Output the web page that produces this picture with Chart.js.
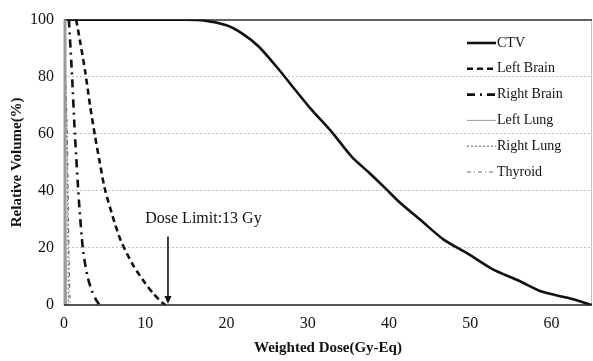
<!DOCTYPE html>
<html>
<head>
<meta charset="utf-8">
<script src="https://cdn.jsdelivr.net/npm/chart.js@4"></script>
<style>
  html, body { margin: 0; padding: 0; background: #fff; }
  #wrap { width: 593px; height: 361px; position: relative; }
</style>
</head>
<body>
<div id="wrap"><canvas id="dvh"></canvas></div>
<script>
// dose-volume histogram, dose in Gy-Eq, volume in %
const ctvDose = [0, 15, 17, 20, 22, 24, 26.6, 28, 30.3, 33, 35.4, 37.5, 39.7, 41.3, 44, 46.7, 50, 52.8, 56, 58.8, 62, 65];
const ctvVol = [100, 100, 99.8, 98, 95, 90.5, 82, 77, 69, 60.5, 52, 46.5, 40.5, 36, 29.5, 23, 17.5, 12.5, 8.5, 4.7, 2.5, 0];

const leftBrainDose = [1.5, 2, 2.6, 3.2, 3.8, 4.4, 5, 6, 7, 8.5, 10, 11, 12, 12.5];
const leftBrainVol = [100, 92, 82, 70, 59.5, 50, 41, 31, 22.5, 14, 7.6, 4, 1, 0];

const rightBrainDose = [0.6, 0.95, 1.35, 1.85, 2.35, 2.9, 3.4, 4, 4.4];
const rightBrainVol = [100, 82.5, 59.5, 36, 19, 10, 5.2, 1.5, 0];

const leftLungDose = [0, 0.15, 0.3];
const leftLungVol = [100, 50, 0];

const rightLungDose = [0, 0.35, 0.55];
const rightLungVol = [100, 60, 0];

const thyroidDose = [0, 0.4, 0.6, 0.75];
const thyroidVol = [100, 60, 20, 0];

const xTicks = [0, 10, 20, 30, 40, 50, 60];
const yTicks = [0, 20, 40, 60, 80, 100];

const doseLimit = 13;
const doseLimitText = 'Dose Limit:13 Gy';

function pts(xs, ys) {
    return xs.map((x, i) => ({ x: x, y: ys[i] }));
}

const serif = '"Liberation Serif", "Times New Roman", serif';

const series = [
    { label: 'CTV', data: pts(ctvDose, ctvVol), borderColor: '#111', borderWidth: 2.6, borderDash: [] },
    { label: 'Left Brain', data: pts(leftBrainDose, leftBrainVol), borderColor: '#111', borderWidth: 2.6, borderDash: [6, 4] },
    { label: 'Right Brain', data: pts(rightBrainDose, rightBrainVol), borderColor: '#111', borderWidth: 2.6, borderDash: [8, 5, 2, 5] },
    { label: 'Left Lung', data: pts(leftLungDose, leftLungVol), borderColor: '#999', borderWidth: 1, borderDash: [] },
    { label: 'Right Lung', data: pts(rightLungDose, rightLungVol), borderColor: '#777', borderWidth: 1.2, borderDash: [2, 2] },
    { label: 'Thyroid', data: pts(thyroidDose, thyroidVol), borderColor: '#666', borderWidth: 1.2, borderDash: [4, 3, 1, 3] }
];

// frame, legend box and dose limit arrow
const decorations = {
    id: 'decorations',
    beforeDatasetsDraw(chart) {
        const { ctx, chartArea: a } = chart;
        ctx.save();
        ctx.strokeStyle = '#888';
        ctx.lineWidth = 1;
        ctx.setLineDash([1, 1]);
        ctx.beginPath();
        ctx.moveTo(a.right - 0.5, a.top);
        ctx.lineTo(a.right - 0.5, a.bottom);
        ctx.stroke();
        ctx.setLineDash([]);
        ctx.strokeStyle = '#333';
        ctx.lineWidth = 1.5;
        ctx.beginPath();
        ctx.moveTo(a.left, a.top + 0.5);
        ctx.lineTo(a.right, a.top + 0.5);
        ctx.stroke();
        ctx.restore();
    },
    afterDatasetsDraw(chart) {
        const { ctx, chartArea: a, scales: { x, y } } = chart;
        ctx.save();

        // left axis drawn heavy and grey, bottom axis dark
        ctx.strokeStyle = '#9a9a9a';
        ctx.lineWidth = 3;
        ctx.beginPath();
        ctx.moveTo(a.left + 1, a.top);
        ctx.lineTo(a.left + 1, a.bottom);
        ctx.stroke();
        ctx.strokeStyle = '#222';
        ctx.lineWidth = 1.5;
        ctx.beginPath();
        ctx.moveTo(a.left, a.bottom);
        ctx.lineTo(a.right, a.bottom);
        ctx.stroke();

        // dose limit arrow
        const ax = x.getPixelForValue(doseLimit - 0.2);
        const y0 = y.getPixelForValue(24);
        const y1 = y.getPixelForValue(0);
        ctx.strokeStyle = '#111';
        ctx.fillStyle = '#111';
        ctx.lineWidth = 1.6;
        ctx.beginPath();
        ctx.moveTo(ax, y0);
        ctx.lineTo(ax, y1 - 6);
        ctx.stroke();
        ctx.beginPath();
        ctx.moveTo(ax - 3.5, y1 - 9);
        ctx.lineTo(ax + 3.5, y1 - 9);
        ctx.lineTo(ax, y1 - 1);
        ctx.closePath();
        ctx.fill();

        ctx.font = '16px ' + serif;
        ctx.textAlign = 'left';
        ctx.textBaseline = 'alphabetic';
        ctx.fillText(doseLimitText, x.getPixelForValue(10), y.getPixelForValue(28.7));

        // legend
        ctx.font = '14px ' + serif;
        ctx.textBaseline = 'middle';
        chart.data.datasets.forEach((ds, i) => {
            const ly = 43 + i * 25.8;
            ctx.strokeStyle = ds.borderColor;
            ctx.lineWidth = ds.borderWidth;
            ctx.setLineDash(ds.borderDash);
            ctx.beginPath();
            ctx.moveTo(467, ly);
            ctx.lineTo(496, ly);
            ctx.stroke();
            ctx.setLineDash([]);
            ctx.fillStyle = '#111';
            ctx.fillText(ds.label, 497, ly);
        });
        ctx.restore();
    }
};

new Chart(document.getElementById('dvh'), {
    type: 'scatter',
    data: {
        datasets: series.map(s => ({
            label: s.label,
            data: s.data,
            showLine: true,
            borderColor: s.borderColor,
            borderWidth: s.borderWidth,
            borderDash: s.borderDash,
            pointRadius: 0,
            tension: 0.25,
            fill: false
        }))
    },
    options: {
        responsive: true,
        maintainAspectRatio: false,
        animation: false,
        layout: { padding: { top: 16, right: 1, left: 4, bottom: 0 } },
        plugins: {
            legend: { display: false },
            tooltip: { enabled: false }
        },
        scales: {
            x: {
                type: 'linear',
                min: 0,
                max: 65,
                afterBuildTicks: function(scale) {
                    scale.ticks = xTicks.map(v => ({ value: v }));
                },
                afterFit: function(scale) {
                    scale.height = 56;
                },
                grid: { display: false, drawTicks: false },
                border: { display: false },
                ticks: {
                    color: '#111',
                    padding: 9,
                    font: { family: serif, size: 16 }
                },
                title: {
                    display: true,
                    text: 'Weighted Dose(Gy-Eq)',
                    color: '#111',
                    padding: { top: 2 },
                    font: { family: serif, size: 15, weight: 'bold' }
                }
            },
            y: {
                min: 0,
                max: 100,
                afterBuildTicks: function(scale) {
                    scale.ticks = yTicks.map(v => ({ value: v }));
                },
                afterFit: function(scale) {
                    scale.width = 60;
                },
                grid: {
                    color: '#c0c0c0',
                    lineWidth: 1,
                    drawTicks: false
                },
                border: { display: false, dash: [2, 2] },
                ticks: {
                    color: '#111',
                    padding: 10,
                    font: { family: serif, size: 16 }
                },
                title: {
                    display: true,
                    text: 'Relative Volume(%)',
                    color: '#111',
                    padding: { bottom: 4 },
                    font: { family: serif, size: 15, weight: 'bold' }
                }
            }
        }
    },
    plugins: [decorations]
});
</script>
</body>
</html>
